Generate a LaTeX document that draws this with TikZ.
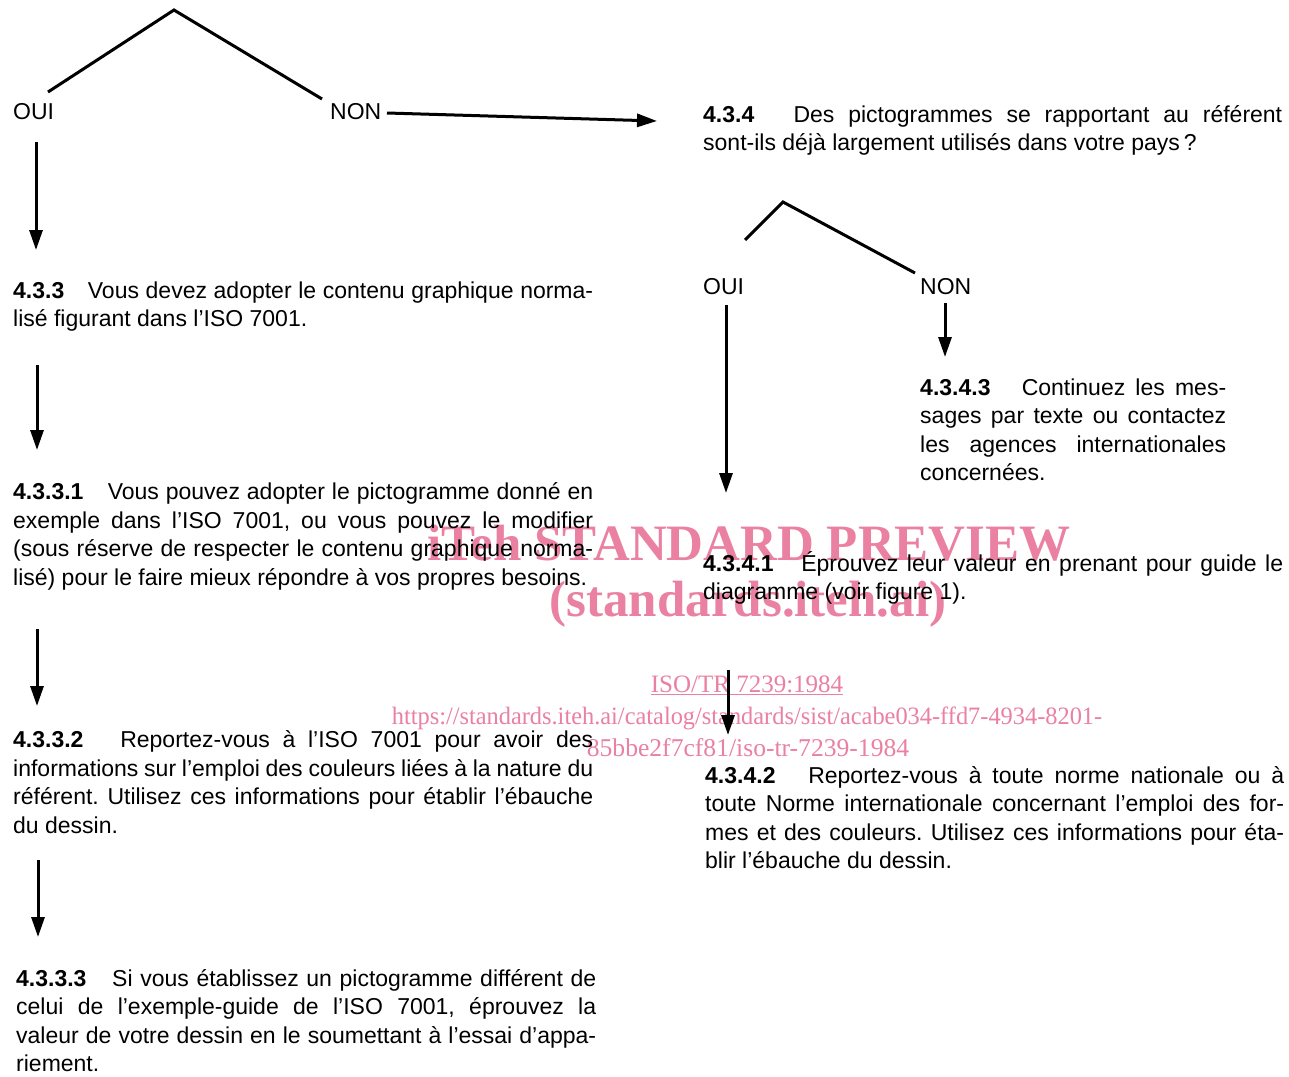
\documentclass[tikz,border=0pt]{standalone}
\usepackage{fontspec}
\setmainfont{Liberation Sans}
\newfontfamily\wmfont{Liberation Serif}
\usetikzlibrary{arrows.meta}
\definecolor{wmpink}{RGB}{234,128,162}
\frenchspacing
\newcommand{\JL}[1]{\makebox[\linewidth][s]{#1}}
\newcommand{\secnum}[1]{\textbf{#1}\hspace{1em plus 0.3em}}
\tikzset{
  para/.style={anchor=base west, inner sep=0pt, font=\fontsize{23}{28.6}\selectfont},
  lbl/.style={anchor=base west, inner sep=0pt, font=\fontsize{23}{28.6}\selectfont},
  branch/.style={line width=3pt, line join=miter},
  arr/.style={line width=3pt, -{Triangle[length=20pt,width=13pt]}},
  wm/.style={anchor=base, inner sep=0pt, text=wmpink},
}
\begin{document}
\begin{tikzpicture}[x=1pt,y=-1pt]
\useasboundingbox (0,0) rectangle (1289,1076);
\fill[white] (0,0) rectangle (1289,1076);

% watermark
\node[wm, font=\wmfont\bfseries\fontsize{51}{51}\selectfont] (wm1) at (749,560) {iTeh STANDARD PREVIEW};
\node[wm, font=\wmfont\bfseries\fontsize{51}{51}\selectfont] (wm2) at (748,616) {(standards.iteh.ai)};
\node[wm, font=\wmfont\fontsize{25}{25}\selectfont] (wm3) at (747,692) {\underline{ISO/TR 7239:1984}};
\node[wm, font=\wmfont\fontsize{25}{25}\selectfont] (wm4) at (747,724) {\scalebox{0.975}[1]{https://standards.iteh.ai/catalog/standards/sist/acabe034-ffd7-4934-8201-}};
\node[wm, font=\wmfont\fontsize{25.6}{25.6}\selectfont] (wm5) at (748,756) {85bbe2f7cf81/iso-tr-7239-1984};

% labels
\node[lbl] (oui1) at (13,119) {OUI};
\node[lbl] (non1) at (330,119) {NON};
\node[lbl] (oui2) at (703,294) {OUI};
\node[lbl] (non2) at (920,294) {NON};

% paragraphs, left column
\node[para] (p433) at (13,298) {\parbox[t]{580pt}{%
\JL{\secnum{4.3.3}Vous devez adopter le contenu graphique norma-}\\
lisé figurant dans l’ISO 7001.}};

\node[para] (p4331) at (13,499.5) {\parbox[t]{580pt}{%
\JL{\secnum{4.3.3.1}Vous pouvez adopter le pictogramme donné en}\\
\JL{exemple dans l’ISO 7001, ou vous pouvez le modifier}\\
\JL{(sous réserve de respecter le contenu graphique norma-}\\
lisé) pour le faire mieux répondre à vos propres besoins.}};

\node[para] (p4332) at (13,747.5) {\parbox[t]{580pt}{%
\JL{\secnum{4.3.3.2}Reportez-vous à l’ISO 7001 pour avoir des}\\
\JL{informations sur l’emploi des couleurs liées à la nature du}\\
\JL{référent. Utilisez ces informations pour établir l’ébauche}\\
du dessin.}};

\node[para] (p4333) at (16,986) {\parbox[t]{580pt}{%
\JL{\secnum{4.3.3.3}Si vous établissez un pictogramme différent de}\\
\JL{celui de l’exemple-guide de l’ISO 7001, éprouvez la}\\
\JL{valeur de votre dessin en le soumettant à l’essai d’appa-}\\
riement.}};

% paragraphs, right column
\node[para] (p434) at (703,122) {\parbox[t]{579pt}{%
\JL{\secnum{4.3.4}Des pictogrammes se rapportant au référent}\\
sont-ils déjà largement utilisés dans votre pays\,?}};

\node[para] (p4343) at (920,395) {\parbox[t]{306pt}{%
\JL{\secnum{4.3.4.3}Continuez les mes-}\\
\JL{sages par texte ou contactez}\\
\JL{les agences internationales}\\
concernées.}};

\node[para] (p4341) at (703,571) {\parbox[t]{580pt}{%
\JL{\secnum{4.3.4.1}Éprouvez leur valeur en prenant pour guide le}\\
diagramme (voir figure 1).}};

\node[para] (p4342) at (705,783) {\parbox[t]{579pt}{%
\JL{\secnum{4.3.4.2}Reportez-vous à toute norme nationale ou à}\\
\JL{toute Norme internationale concernant l’emploi des for-}\\
\JL{mes et des couleurs. Utilisez ces informations pour éta-}\\
blir l’ébauche du dessin.}};

% branch coordinates
\coordinate (b1l) at (48,92);
\coordinate (b1a) at (174,10);
\coordinate (b1r) at (322,99);
\coordinate (b2l) at (745,240);
\coordinate (b2a) at (783,202);
\coordinate (b2r) at (915,273);
\draw[branch] (b1l) -- (b1a) -- (b1r);
\draw[branch] (b2l) -- (b2a) -- (b2r);

% arrow coordinates
\coordinate (n1s) at (387,113);  \coordinate (n1e) at (657,121);
\coordinate (a1s) at (36,142);   \coordinate (a1e) at (36,250);
\coordinate (a2s) at (37,365);   \coordinate (a2e) at (37,450);
\coordinate (a3s) at (37,629);   \coordinate (a3e) at (37,706);
\coordinate (a4s) at (38,860);   \coordinate (a4e) at (38,937);
\coordinate (r1s) at (726,305);  \coordinate (r1e) at (726,493);
\coordinate (r2s) at (945,303);  \coordinate (r2e) at (945,357);
\coordinate (r3s) at (728,670);  \coordinate (r3e) at (728,735);

\draw[arr] (n1s) -- (n1e);
\draw[arr] (a1s) -- (a1e);
\draw[arr] (a2s) -- (a2e);
\draw[arr] (a3s) -- (a3e);
\draw[arr] (a4s) -- (a4e);
\draw[arr] (r1s) -- (r1e);
\draw[arr] (r2s) -- (r2e);
\draw[arr] (r3s) -- (r3e);
\end{tikzpicture}
\end{document}
